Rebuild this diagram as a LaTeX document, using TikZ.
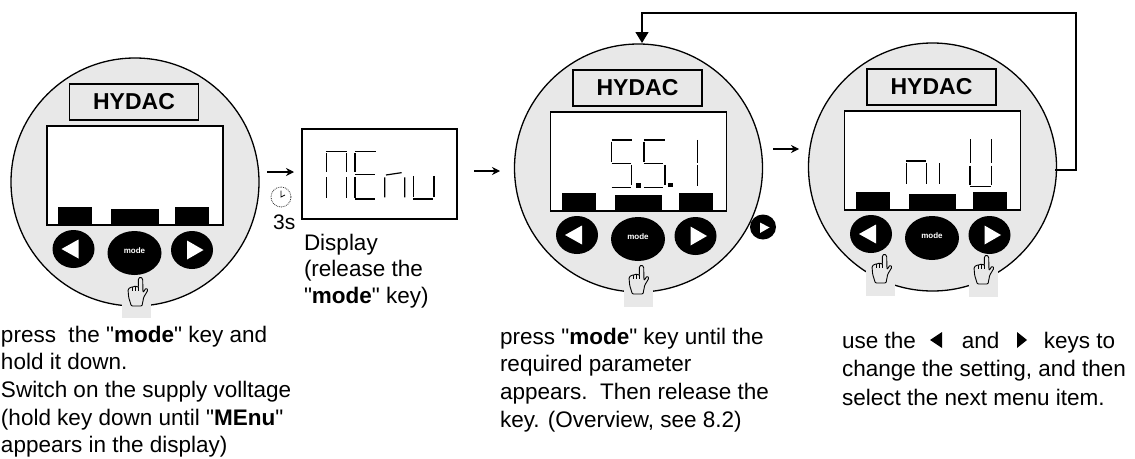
\documentclass[tikz,border=0pt]{standalone}
\usepackage{fontspec}
\setmainfont{Liberation Sans}[Ligatures=TeXOff]
\usetikzlibrary{arrows.meta,shapes.geometric}
\definecolor{panelgray}{HTML}{E8E8E8}
\tikzset{
  panel/.style={circle,draw=black,fill=panelgray,line width=1.3pt,minimum size=248pt,inner sep=0pt,outer sep=0pt},
  brand/.style={draw=black,fill=panelgray,line width=1.5pt,minimum width=129pt,minimum height=36pt,inner sep=0pt,font=\fontsize{23}{23}\selectfont\bfseries},
  lcd/.style={draw=black,fill=white,line width=1.7pt,minimum width=176pt,minimum height=99pt,inner sep=0pt},
  bar/.style={fill=black,draw=none,inner sep=0pt},
  keyround/.style={ellipse,fill=black,draw=none,minimum width=42pt,minimum height=38pt,inner sep=0pt},
  keymode/.style={ellipse,fill=black,draw=none,minimum width=54pt,minimum height=44pt,inner sep=0pt},
  seg/.style={line width=1.2pt,line cap=butt},
  caption/.style={anchor=north west,align=left,inner sep=0pt,outer sep=0pt,font=\fontsize{22.5}{27.7}\selectfont},
  flow/.style={line width=1.1pt,-{Stealth[length=8pt,width=8pt]}},
  loopline/.style={line width=1.4pt},
  handline/.style={draw=black,fill=panelgray,line width=0.9pt,line join=round},
}
% #1 name, #2 cx, #3 cy
\newcommand{\devicepanel}[3]{%
  \node[panel] (#1) at (#2,#3) {};
  \begin{scope}[shift={(#2,#3)}]
    \node[brand] (#1brand) at (-1,-80) {HYDAC};
    \node[lcd] (#1lcd) at (0,-6.5) {};
  \end{scope}}
\newcommand{\devicekeys}[3]{%
  \begin{scope}[shift={(#2,#3)}]
    \fill[bar] (-77,25) rectangle (-43,43.5);
    \fill[bar] (-24,27) rectangle (23.5,43.5);
    \fill[bar] (40,25) rectangle (74,43.5);
    \node[keyround] (#1left) at (-61.5,67) {};
    \node[keymode] (#1mode) at (-0.5,71) {};
    \node[keyround] (#1right) at (57,68) {};
    \fill[white] (-73.5,67) -- (-56.5,57.5) -- (-56.5,76.5) -- cycle;
    \fill[white] (52,58.5) -- (68.5,68) -- (52,77.5) -- cycle;
    \node[text=white,inner sep=0pt,font=\fontsize{8}{8}\selectfont\bfseries] (#1modetext) at (-0.5,69) {mode};
  \end{scope}}
% hand: reference point = bottom centre
\newcommand{\handat}[2]{%
  \begin{scope}[shift={(#1,#2)},x=0.3333pt,y=-0.3333pt,shift={(-413,-798)}]
    \draw[handline,rounded corners=1pt] (393,798) -- (425,798) -- (430,772) -- (443,750) -- (437,744) -- (428,758) -- (427,716) -- (420,711) -- (414,716) -- (414,742) -- (405,738) -- (398,741) -- (390,742) -- (383,748) -- (385,772) -- cycle;
    \draw[line width=0.7pt] (414,742) -- (414,754) (405,738) -- (405,754) (396,741) -- (396,754);
  \end{scope}}
\begin{document}
\begin{tikzpicture}[x=1pt,y=-1pt]
\useasboundingbox (0,0) rectangle (1135,458);

% --- panel 1
\devicepanel{pa}{135}{182}
\fill[panelgray] (122,286) rectangle (151,318);
\devicekeys{pa}{135}{182}
\handat{138}{306}

% --- display MEnu
\node[draw=black,fill=white,line width=1.7pt,minimum width=155pt,minimum height=90pt,inner sep=0pt] (menu) at (379.5,174) {};
\begin{scope}[shift={(240,90)},x=0.3333pt,y=-0.3333pt]
  \draw[seg] (258,185)--(320,185) (260,190)--(260,245) (260,262)--(260,323) (320,190)--(320,245) (320,262)--(320,323);
  \draw[seg] (345,185)--(408,185) (345,190)--(345,245) (345,262)--(345,323) (345,253)--(405,253) (345,327)--(406,327);
  \draw[seg] (438,255)--(485,248) (434,262)--(434,322) (494,262)--(494,322);
  \draw[seg] (520,258)--(520,322) (582,258)--(582,322) (520,327)--(578,327);
\end{scope}

% --- panel 3
\devicepanel{pb}{638.5}{168}
\begin{scope}[shift={(500,0)},x=0.3333pt,y=-0.3333pt]
  \draw[seg] (335,420)--(395,420) (335,425)--(335,485) (335,490)--(393,490) (395,495)--(395,555) (335,563)--(392,563);
  \fill (408,550) rectangle (422,564);
  \draw[seg] (432,420)--(495,420) (432,425)--(432,485) (432,490)--(490,490) (495,495)--(495,555) (432,563)--(490,563);
  \fill (505,548) rectangle (519,562);
  \draw[seg] (592,420)--(592,490) (592,495)--(592,558);
\end{scope}
\fill[panelgray] (624,286) rectangle (653,307);
\devicekeys{pb}{638.5}{168}
\handat{639}{294}
\node[ellipse,fill=black,minimum width=26pt,minimum height=25pt,inner sep=0pt] (smallkey) at (763,227) {};
\fill[white] (760,222.5) -- (769.5,227.5) -- (760,233) -- cycle;

% --- panel 4
\devicepanel{pc}{932.5}{167}
\begin{scope}[shift={(790,0)},x=0.3333pt,y=-0.3333pt]
  \draw[seg] (348,483)--(408,483) (350,490)--(350,553) (410,490)--(410,553) (448,490)--(448,553);
  \draw[seg] (542,418)--(542,490) (604,418)--(604,490) (540,497)--(540,555) (604,497)--(604,555) (540,560)--(602,560);
\end{scope}
\fill[panelgray] (866,264) rectangle (895,296);
\fill[panelgray] (969,264) rectangle (998,297);
\devicekeys{pc}{932.5}{167}
\handat{882}{283}
\handat{984}{284}

% --- flow arrows
\coordinate (fa1) at (267,172);
\coordinate (fa2) at (294,172);
\draw[flow] (fa1) -- (fa2);
\coordinate (fb1) at (474,171);
\coordinate (fb2) at (500,171);
\draw[flow] (fb1) -- (fb2);
\coordinate (fc1) at (773,149);
\coordinate (fc2) at (799,149);
\draw[flow] (fc1) -- (fc2);

% --- feedback
\coordinate (backr) at (1076,170);
\coordinate (backt) at (1076,13);
\coordinate (backl) at (642,13);
\coordinate (pctap) at (1055,170);
\coordinate (pbtop) at (642,43);
\draw[loopline,-{Triangle[width=13pt,length=11pt]}] (pctap) -- (backr) -- (backt) -- (backl) -- (pbtop);

% --- clock
\node[circle,draw=black!80,densely dotted,line width=0.8pt,minimum size=20pt,inner sep=0pt] (clock) at (281,197) {};
\draw[line width=0.7pt] (281,190.5) -- (281,197) -- (285,195);

% --- captions
\node[anchor=base west,inner sep=0pt,font=\fontsize{21}{24}\selectfont] (threes) at (273,229) {3s};
\node[caption] (capa) at (1,322) {\rule{0pt}{20pt}press\hspace{12.5pt}the "\textbf{mode}" key and\\hold it down.\\Switch on the supply volltage\\(hold key down until "\textbf{MEnu}"\\appears in the display)};
\node[caption,font=\fontsize{22.5}{26.5}\selectfont] (capd) at (304,230) {\rule{0pt}{20pt}Display\\(release the\\"\textbf{mode}" key)};
\node[caption] (capb) at (500,324) {\rule{0pt}{20pt}press "\textbf{mode}" key until the\\required parameter\\appears.\hspace{12.5pt}Then release the\\key. (Overview, see 8.2)};
\node[caption,font=\fontsize{22.5}{28.5}\selectfont] (capc) at (842,328) {\rule{0pt}{20pt}use the\hspace{46pt}and\hspace{44.5pt}keys to\\change the setting, and then\\select the next menu item.};
\fill (942,332) -- (942,348) -- (930,340) -- cycle;
\fill (1017,332) -- (1017,348) -- (1027,340) -- cycle;
\end{tikzpicture}
\end{document}
